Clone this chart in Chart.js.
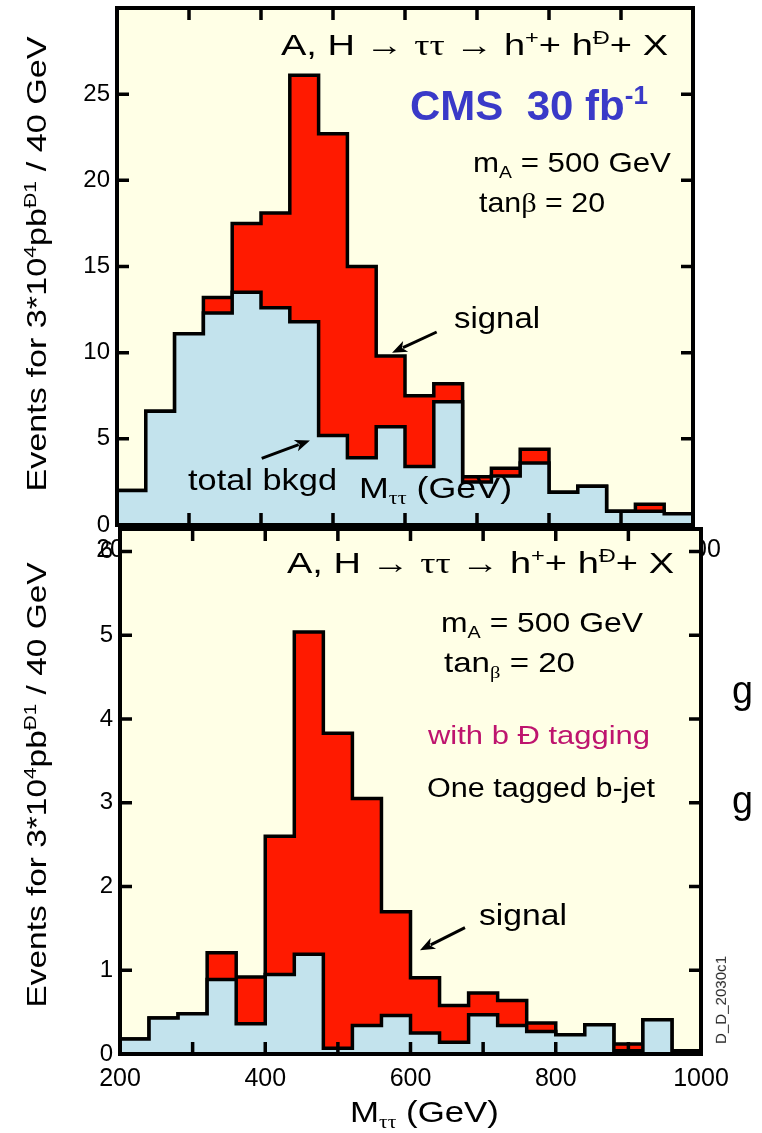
<!DOCTYPE html>
<html>
<head>
<meta charset="utf-8">
<script src="https://cdn.jsdelivr.net/npm/chart.js@4.4.1/dist/chart.umd.min.js"></script>
<style>
html, body { margin: 0; padding: 0; background: #fff; }
#wrap { position: relative; width: 762px; height: 1133px; overflow: hidden;
        font-family: "Liberation Sans", Arial, Helvetica, sans-serif; color: #000; }
canvas { position: absolute; left: 0; }
#cAll { top: 0; }
#cTag { top: 520px; }
.t { position: absolute; white-space: nowrap; line-height: 1; }
.gr { font-family: "Liberation Serif", "DejaVu Serif", serif; }
.t sup, .t sub { font-size: 0.62em; line-height: 0; position: relative; vertical-align: baseline; }
.t sup { top: -0.6em; }
.t sub { top: 0.32em; }
</style>
</head>
<body>
<div id="wrap">
  <canvas id="cAll" width="762" height="580"></canvas>
  <canvas id="cTag" width="762" height="613"></canvas>
</div>
<script>
// ---- histogram contents: 40 GeV bins in M_tautau ----
const massEdges = [200, 240, 280, 320, 360, 400, 440, 480, 520, 560, 600,
                   640, 680, 720, 760, 800, 840, 880, 920, 960, 1000];

// inclusive selection (30 fb^-1)
const bkgAll = [2.0, 6.6, 11.1, 12.3, 13.5, 12.6, 11.8, 5.2, 3.9, 5.7,
                3.4, 7.15, 2.5, 2.85, 3.6, 1.9, 2.25, 0.8, 0.8, 0.65];
const sumAll = [2.0, 6.6, 11.1, 13.2, 17.5, 18.1, 26.1, 22.7, 15.0, 9.8,
                7.5, 8.2, 2.8, 3.3, 4.4, 1.9, 2.25, 0.8, 1.2, 0.65];

// one tagged b-jet
const bkgTag = [0.18, 0.43, 0.48, 0.89, 0.36, 0.95, 1.19, 0.07, 0.34, 0.46,
                0.25, 0.14, 0.47, 0.34, 0.27, 0.23, 0.35, 0.04, 0.41, 0.02];
const sumTag = [0.18, 0.43, 0.48, 1.21, 0.92, 2.60, 5.04, 3.83, 3.05, 1.70,
                0.91, 0.58, 0.73, 0.64, 0.37, 0.23, 0.35, 0.12, 0.41, 0.04];

// tick labels
const massLabels = [200, 400, 600, 800, 1000];
const yLabelsAll = [0, 5, 10, 15, 20, 25];
const yLabelsTag = [0, 1, 2, 3, 4, 5, 6];

// ---- styling ----
const CREAM = '#FFFFE6';
const RED = '#FF1A00';
const BLUE = '#C3E3ED';
const FONT = '"Liberation Sans", Arial, Helvetica, sans-serif';

function stepPoints(vals) {
  const pts = vals.map((v, i) => ({ x: massEdges[i], y: v }));
  pts.push({ x: massEdges[vals.length], y: vals[vals.length - 1] });
  return pts;
}

function drawArrow(ctx, x0, y0, x1, y1) {
  const ang = Math.atan2(y1 - y0, x1 - x0);
  const hl = 15, hw = 6;
  const bx = x1 - hl * Math.cos(ang), by = y1 - hl * Math.sin(ang);
  ctx.beginPath();
  ctx.moveTo(x0, y0);
  ctx.lineTo(bx + 3 * Math.cos(ang), by + 3 * Math.sin(ang));
  ctx.stroke();
  ctx.beginPath();
  ctx.moveTo(x1, y1);
  ctx.lineTo(bx + hw * Math.sin(ang), by - hw * Math.cos(ang));
  ctx.lineTo(bx + 4 * Math.cos(ang), by + 4 * Math.sin(ang));
  ctx.lineTo(bx - hw * Math.sin(ang), by + hw * Math.cos(ang));
  ctx.closePath();
  ctx.fill();
}

// plot-area background, inward ticks on all four sides, frame and arrows
const panelPlugin = {
  id: 'panel',
  beforeDraw(chart) {
    const { ctx, chartArea: a } = chart;
    ctx.save();
    ctx.fillStyle = CREAM;
    ctx.fillRect(a.left, a.top, a.right - a.left, a.bottom - a.top);
    ctx.restore();
  },
  afterDatasetsDraw(chart, args, opts) {
    const { ctx, chartArea: a, scales: { x, y } } = chart;
    const tl = 12;
    ctx.save();
    ctx.strokeStyle = '#000';
    ctx.fillStyle = '#000';
    ctx.lineCap = 'butt';
    ctx.lineWidth = 3.5;
    ctx.beginPath();
    x.ticks.forEach(t => {
      if (t.value <= x.min || t.value >= x.max) return;
      const px = x.getPixelForValue(t.value);
      ctx.moveTo(px, a.bottom); ctx.lineTo(px, a.bottom - tl);
      ctx.moveTo(px, a.top); ctx.lineTo(px, a.top + tl);
    });
    y.ticks.forEach(t => {
      if (t.value <= y.min || t.value >= y.max) return;
      const py = y.getPixelForValue(t.value);
      ctx.moveTo(a.left, py); ctx.lineTo(a.left + tl, py);
      ctx.moveTo(a.right, py); ctx.lineTo(a.right - tl, py);
    });
    ctx.stroke();
    ctx.lineWidth = 4;
    ctx.strokeRect(a.left, a.top, a.right - a.left, a.bottom - a.top);
    ctx.lineWidth = 3;
    (opts.arrows || []).forEach(ar => {
      drawArrow(ctx,
        x.getPixelForValue(ar.from[0]), y.getPixelForValue(ar.from[1]),
        x.getPixelForValue(ar.to[0]), y.getPixelForValue(ar.to[1]));
    });
    ctx.restore();
  }
};

function makePanel(canvas, cfg) {
  return new Chart(canvas, {
    type: 'line',
    data: {
      datasets: [
        { label: 'total bkgd', data: stepPoints(cfg.bkg), stepped: 'before', fill: 'origin',
          backgroundColor: BLUE, borderColor: '#000', borderWidth: 3.5, pointRadius: 0,
          borderJoinStyle: 'miter', tension: 0 },
        { label: 'signal', data: stepPoints(cfg.sum), stepped: 'before', fill: 'origin',
          backgroundColor: RED, borderColor: '#000', borderWidth: 3.5, pointRadius: 0,
          borderJoinStyle: 'miter', tension: 0 }
      ]
    },
    options: {
      responsive: false,
      animation: false,
      events: [],
      layout: { padding: { top: cfg.padTop, right: cfg.padRight, left: 0, bottom: 0 } },
      plugins: {
        legend: { display: false },
        tooltip: { enabled: false },
        panel: { arrows: cfg.arrows }
      },
      scales: {
        x: {
          type: 'linear', min: 200, max: 1000,
          grid: { display: false, drawTicks: false },
          border: { display: false },
          afterFit: s => { s.height = cfg.xAxisH; s.paddingLeft = 0; s.paddingRight = 0; },
          ticks: {
            stepSize: 100, autoSkip: false, maxRotation: 0, padding: 10,
            color: '#000', font: { family: FONT, size: 25 },
            callback: v => massLabels.includes(v) ? String(v) : ''
          }
        },
        y: {
          type: 'linear', min: 0, max: cfg.yMax,
          grid: { display: false, drawTicks: false },
          border: { display: false },
          afterFit: s => { s.width = cfg.yAxisW; s.paddingTop = 0; s.paddingBottom = 0; },
          ticks: {
            stepSize: cfg.yStep, includeBounds: false, padding: 7,
            color: '#000', font: { family: FONT, size: 24 },
            callback: v => cfg.yLabels.includes(v) ? String(v) : ''
          }
        }
      }
    },
    plugins: [panelPlugin]
  });
}

makePanel(document.getElementById('cAll'), {
  bkg: bkgAll, sum: sumAll, yMax: 30, yStep: 5, yLabels: yLabelsAll,
  padTop: 8, padRight: 69, yAxisW: 117, xAxisH: 55,
  arrows: [ { from: [644, 11.2], to: [582, 10.0] },
            { from: [401, 3.87], to: [468, 4.9] } ]
});

makePanel(document.getElementById('cTag'), {
  bkg: bkgTag, sum: sumTag, yMax: 6.27, yStep: 1, yLabels: yLabelsTag,
  padTop: 9, padRight: 61, yAxisW: 120, xAxisH: 79,
  arrows: [ { from: [675, 1.51], to: [613, 1.24] } ]
});

// ---- text annotations ----
const TITLE = 'A, H &rarr; <span class="gr">&tau;&tau;</span> &rarr; h<sup>+</sup>+ h<sup>&ETH;</sup>+ X';
const MTT = 'M<sub class="gr">&tau;&tau;</sub> (GeV)';
const YTITLE = 'Events for 3*10<sup>4</sup>pb<sup>&ETH;1</sup> / 40 GeV';

const texts = [
  { html: TITLE, left: 281, cy: 45, size: 30, width: 387 },
  { html: 'CMS&nbsp; 30 fb<sup>-1</sup>', left: 410, cy: 105, size: 43, width: 238,
    style: 'font-weight:bold;color:#3A3AC8' },
  { html: 'm<sub>A</sub> = 500 GeV', left: 473, cy: 163, size: 28, width: 198 },
  { html: 'tan<span class="gr">&beta;</span> = 20', left: 479, cy: 203, size: 28, width: 126 },
  { html: 'signal', left: 454, cy: 318, size: 29, width: 86 },
  { html: 'total bkgd', left: 188, cy: 480, size: 29, width: 149 },
  { html: MTT, left: 359, cy: 488, size: 29, width: 153 },

  { html: TITLE, left: 287, cy: 563, size: 30, width: 387 },
  { html: 'm<sub>A</sub> = 500 GeV', left: 441, cy: 623, size: 28, width: 202 },
  { html: 'tan<sub class="gr">&beta;</sub> = 20', left: 444, cy: 663, size: 28, width: 131 },
  { html: 'with b &ETH; tagging', left: 428, cy: 735, size: 25, width: 222, style: 'color:#BE146E' },
  { html: 'One tagged b-jet', left: 427, cy: 788, size: 27, width: 228 },
  { html: 'signal', left: 479, cy: 915, size: 29, width: 88 },
  { html: MTT, left: 350, cy: 1112, size: 29, width: 149 },
  { html: 'g', left: 732, cy: 690, size: 38, width: 21 },
  { html: 'g', left: 732, cy: 800, size: 38, width: 21 }
];

const rotated = [
  { html: YTITLE, cx: 37, cy: 264, size: 28, len: 455 },
  { html: YTITLE, cx: 37, cy: 785, size: 28, len: 445 },
  { html: 'D_D_2030c1', cx: 721, cy: 1000, size: 14, len: 88, style: 'color:#222' }
];

const wrap = document.getElementById('wrap');

texts.forEach(s => {
  const el = document.createElement('div');
  el.className = 't';
  el.innerHTML = s.html;
  el.style.fontSize = s.size + 'px';
  if (s.style) el.style.cssText += ';' + s.style;
  wrap.appendChild(el);
  const w = el.getBoundingClientRect().width;
  el.style.left = s.left + 'px';
  el.style.top = (s.cy - 0.49 * s.size) + 'px';
  el.style.transformOrigin = '0 50%';
  el.style.transform = 'scaleX(' + (s.width / w).toFixed(3) + ')';
});

rotated.forEach(s => {
  const el = document.createElement('div');
  el.className = 't';
  el.innerHTML = s.html;
  el.style.fontSize = s.size + 'px';
  if (s.style) el.style.cssText += ';' + s.style;
  wrap.appendChild(el);
  const r = el.getBoundingClientRect();
  el.style.left = (s.cx - r.width / 2) + 'px';
  el.style.top = (s.cy - r.height / 2) + 'px';
  el.style.transformOrigin = '50% 50%';
  el.style.transform = 'rotate(-90deg) scaleX(' + (s.len / r.width).toFixed(3) + ')';
});
</script>
</body>
</html>
